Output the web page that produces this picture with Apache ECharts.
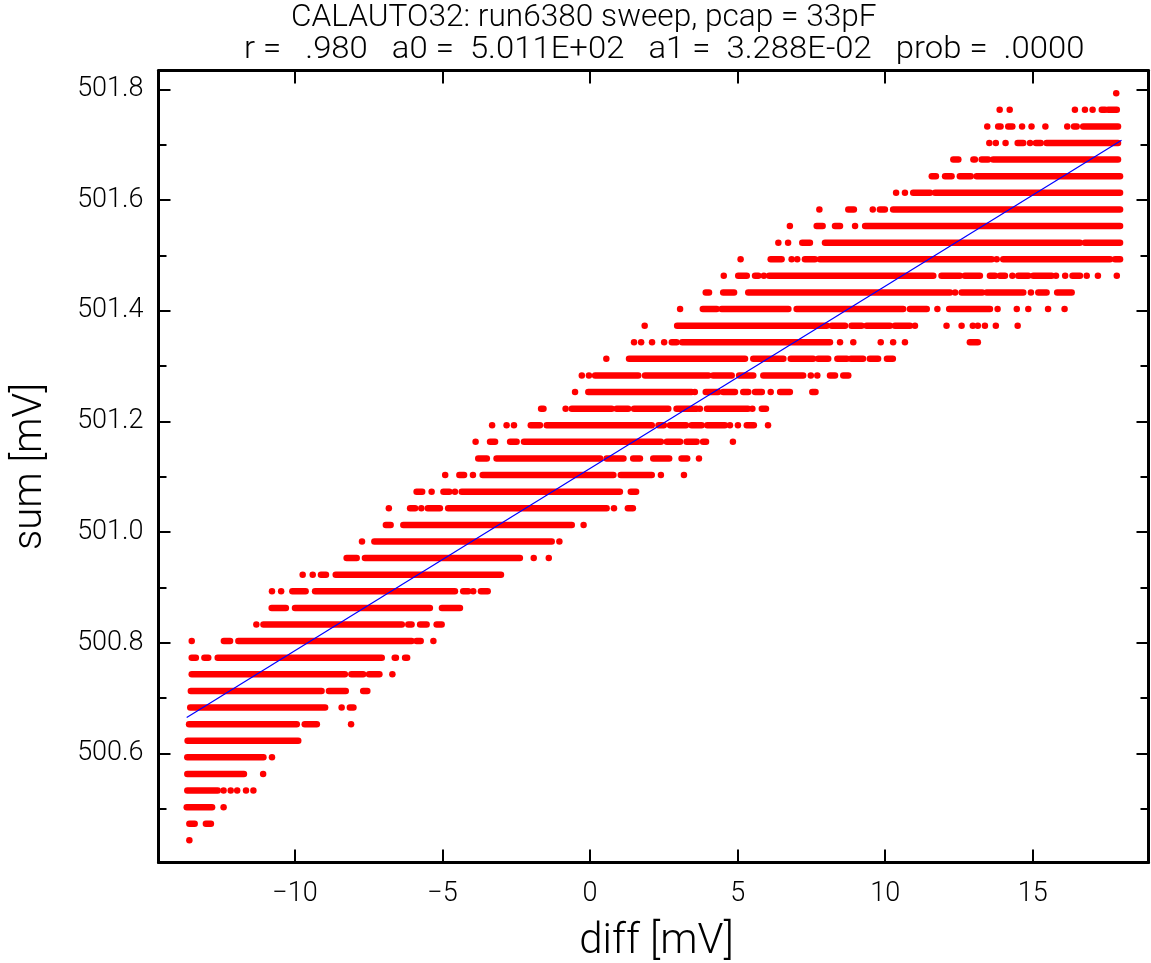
<!DOCTYPE html>
<html>
<head>
<meta charset="utf-8">
<style>html,body{margin:0;padding:0;background:#fff}#c{width:1151px;height:963px}</style>
<script src="https://cdn.jsdelivr.net/npm/echarts@6/dist/echarts.min.js"></script>
</head>
<body>
<div id="c"></div>
<script>
const titleLine1 = 'CALAUTO32: run6380 sweep, pcap = 33pF';
const titleLine2 = 'r =   .980   a0 =  5.011E+02   a1 =  3.288E-02   prob =  .0000';
const xName = 'diff [mV]';
const yName = 'sum [mV]';
const xTicks = [-10, -5, 0, 5, 10, 15];
const xTickLabels = ['\u221210', '\u22125', '0', '5', '10', '15'];
const yTicks = [500.6, 500.8, 501.0, 501.2, 501.4, 501.6, 501.8];
const yTickLabels = ['500.6', '500.8', '501.0', '501.2', '501.4', '501.6', '501.8'];
const yMinorTicks = [500.5, 500.7, 500.9, 501.1, 501.3, 501.5, 501.7];
const xRange = [-14.626, 18.924];
const yRange = [500.403, 501.834];

// ADC-quantised sum levels, bottom to top
const levels = [500.443,500.473,500.503,500.533,500.563,500.593,500.623,500.653,500.683,500.713,
  500.743,500.773,500.803,500.833,500.863,500.893,500.923,500.953,500.983,501.013,
  501.043,501.073,501.103,501.133,501.163,501.193,501.223,501.253,501.283,501.313,
  501.343,501.373,501.403,501.433,501.463,501.493,501.523,501.553,501.583,501.613,
  501.643,501.673,501.703,501.733,501.763,501.793];

// diff values on each level: a number is a lone point, a pair is a run of overlapping points
const runs = [
 [-13.58],
 [[-13.58,-13.40],[-13.02,-12.85]],
 [[-13.67,-12.81],-12.42],
 [[-13.65,-12.62],-12.42,-12.18,-11.96,-11.66,-11.41],
 [[-13.65,-11.73],-11.08],
 [[-13.65,-11.07],-10.78],
 [[-13.64,-9.89]],
 [[-13.59,-9.94],[-9.67,-9.26],-8.10],
 [[-13.55,-8.98],-8.42,[-8.14,-8.02]],
 [[-13.53,-9.10],[-8.85,-8.28],[-7.69,-7.55]],
 [[-13.50,-8.31],[-8.09,-7.69],[-7.49,-7.14],-6.70],
 [[-13.50,-13.36],[-13.07,-12.94],[-12.62,-7.06],[-6.62,-6.58],[-6.27,-6.20]],
 [-13.50,[-12.41,-12.20],[-11.92,-6.05],[-5.88,-5.74],-5.31],
 [-11.31,[-11.07,-6.38],[-6.16,-6.05],[-5.76,-5.54],[-5.20,-5.03]],
 [[-10.79,-10.31],[-10.00,-5.43],[-5.02,-4.41]],
 [-10.78,-10.47,[-10.09,-9.64],[-9.32,-4.58],[-4.30,-4.13],-3.96,[-3.70,-3.47]],
 [-9.74,-9.40,[-9.12,-8.95],[-8.62,-3.02]],
 [[-8.25,-7.91],[-7.63,-2.38],-1.91,-1.40],
 [-7.73,[-7.31,-1.30],-1.04],
 [[-6.92,-6.76],[-6.33,-0.62],-0.22],
 [-6.82,[-6.10,-5.93],-5.72,[-5.50,-5.09],[-4.81,0.56],0.81,[1.28,1.45]],
 [[-5.88,-5.69],-5.37,[-4.97,-4.77],-4.58,[-4.35,1.01],[1.38,1.56]],
 [-4.91,[-4.43,-4.27],-3.97,[-3.64,0.79],[1.04,2.09],2.40,3.18],
 [[-3.79,-3.50],[-3.17,0.34],[0.56,1.13],[1.46,1.69],[2.14,2.68],[3.10,3.29],3.69],
 [-3.88,[-3.39,-3.22],[-2.71,-2.49],[-2.24,2.40],[2.60,3.05],[3.27,3.61],[3.83,3.93],4.84],
 [-3.32,-2.83,-2.58,[-2.01,-1.70],[-1.47,2.09],[2.32,2.50],[2.71,3.25],[3.44,3.78],[3.97,4.57],4.74,5.01,[5.31,5.55],6.03],
 [[-1.66,-1.58],-0.83,[-0.62,0.73],[0.90,1.29],[1.49,2.65],[2.93,3.61],3.72,[3.96,5.35],5.50,[5.82,5.96]],
 [-0.51,[-0.06,3.44],3.55,[3.92,4.34],[4.51,4.91],[5.19,5.36],[5.59,5.82],6.12,[6.44,6.77],[7.53,7.64]],
 [-0.28,-0.04,[0.17,1.63],[1.86,4.01],[4.17,4.80],[5.05,5.53],[5.87,7.22],7.48,7.70,[8.13,8.30],[8.58,8.75]],
 [0.55,[1.32,5.25],[5.53,6.55],[6.80,7.56],[7.73,8.07],[8.38,8.70],[8.84,9.25],[9.48,9.76],[10.06,10.26]],
 [1.49,1.73,2.10,2.51,[2.77,2.93],[3.12,8.13],8.47,8.92,9.85,10.27,10.67,[12.87,13.14]],
 [1.85,[2.95,8.02],[8.19,8.64],[8.86,9.20],[9.37,10.16],[10.33,10.84],11.01,12.08,12.59,12.97,13.14,13.38,13.75,14.49],
 [3.05,[3.82,4.29],[4.46,6.72],[7.00,10.61],[10.84,11.41],11.77,[12.17,13.55],13.81,14.46,14.85,15.52,16.08],
 [[3.92,4.03],[4.51,4.88],[5.36,12.20],12.37,[12.59,13.29],[13.44,14.68],14.94,[15.19,15.47],[15.83,16.32]],
 [4.53,[5.02,5.31],[5.59,5.70],5.89,[6.07,11.63],[11.91,12.53],[12.70,13.21],[13.55,13.72],[13.89,14.06],14.31,[14.51,14.85],[15.02,15.64],15.79,16.10,[16.35,16.60],16.83,17.21,17.85],
 [5.10,[6.12,6.49],6.83,7.02,[7.28,7.62],[7.79,13.61],13.78,[14.00,17.62],[17.79,17.96]],
 [6.38,6.71,[7.19,7.45],[7.96,16.60],[16.77,17.96]],
 [6.77,[7.68,7.88],[8.30,8.47],8.98,[9.32,17.96]],
 [7.77,[8.75,8.94],9.58,[9.82,9.99],[10.27,17.96]],
 [10.37,10.67,[10.95,11.52],[11.69,17.96]],
 [[11.58,11.72],[12.03,12.25],[12.53,12.90],[13.10,17.96]],
 [[12.31,12.48],[12.99,13.04],[13.27,13.49],[13.66,17.89]],
 [13.53,13.75,14.08,[14.49,14.68],14.91,[15.11,15.27],[15.47,17.89]],
 [13.46,[13.83,13.91],[14.17,14.31],14.64,14.96,15.43,16.17,[16.40,16.49],[16.71,17.89]],
 [13.88,14.22,16.43,16.77,17.03,[17.34,17.45],[17.56,17.85]],
 [17.83]
];

const fitX = [-13.67, 18.01];
const fitY = [500.665, 501.708];

const pointData = [];
runs.forEach((row, i) => row.forEach(r => {
  const a = Array.isArray(r) ? r : [r, r];
  pointData.push([a[0], a[1], levels[i]]);
}));

const FONT = 'Roboto,"Liberation Sans",sans-serif';
const INK = '#000';
const TXT = '#000';
const lineStyle = {color: INK, width: 3};
function xAxis(position, show) {
  return {type:'value', position, min:xRange[0], max:xRange[1], splitLine:{show:false},
    axisLine:{show:true,onZero:false,lineStyle},
    axisTick:{show:true,inside:true,length:13,customValues:xTicks,lineStyle:{color:INK,width:2}},
    axisLabel:{show, customValues:xTicks, margin:18, color:TXT, fontFamily:FONT, fontWeight:300, fontSize:27,
      formatter:v=>xTickLabels[xTicks.indexOf(v)]},
    name: show ? xName : '', nameLocation:'middle', nameGap:59,
    nameTextStyle:{color:TXT, fontFamily:FONT, fontWeight:300, fontSize:42, padding:[0,0,0,6]}};
}
function yAxis(position, ticks, len, show, line) {
  return {type:'value', position, min:yRange[0], max:yRange[1], splitLine:{show:false},
    axisLine:{show:line,onZero:false,lineStyle},
    axisTick:{show:true,inside:true,length:len,customValues:ticks,lineStyle:{color:INK,width:2}},
    axisLabel:{show, customValues:ticks, margin:15, color:TXT, fontFamily:FONT, fontWeight:300, fontSize:27,
      formatter:v=>yTickLabels[yTicks.indexOf(v)]},
    name: show ? yName : '', nameLocation:'middle', nameGap:108, nameRotate:90,
    nameTextStyle:{color:TXT, fontFamily:FONT, fontWeight:300, fontSize:40}};
}

const chart = echarts.init(document.getElementById('c'), null, {renderer:'canvas'});
chart.setOption({
  animation:false,
  backgroundColor:'#fff',
  grid:{left:158.5,right:2.5,top:70.5,bottom:100.5,containLabel:false,outerBoundsMode:'none'},
  xAxis:[xAxis('bottom',true),xAxis('top',false)],
  yAxis:[yAxis('left',yTicks,12,true,true),yAxis('left',yMinorTicks,8,false,false),
         yAxis('right',yTicks,12,false,true),yAxis('right',yMinorTicks,8,false,false)],
  graphic:[
    {type:'text',x:291,y:3,scaleX:1.02,style:{text:titleLine1,fill:TXT,font:'300 31px '+FONT}},
    {type:'text',x:244,y:35,scaleX:1.06,style:{text:titleLine2,fill:TXT,font:'300 31px '+FONT}}
  ],
  series:[
    {type:'custom',name:'points',coordinateSystem:'cartesian2d',xAxisIndex:0,yAxisIndex:0,silent:true,
     encode:{x:[0,1],y:2},data:pointData,clip:false,
     renderItem:(p,api)=>{
       const a=api.coord([api.value(0),api.value(2)]), b=api.coord([api.value(1),api.value(2)]);
       return {type:'rect',shape:{x:a[0]-3.25,y:a[1]-3.25,width:b[0]-a[0]+6.5,height:6.5,r:3.25},style:{fill:'#ff0000'}};
     }},
    {type:'line',name:'fit',xAxisIndex:0,yAxisIndex:0,silent:true,showSymbol:false,symbol:'none',
     data:[[fitX[0],fitY[0]],[fitX[1],fitY[1]]],lineStyle:{color:'#0000ff',width:1.2},z:5}
  ]
});
</script>
</body>
</html>
